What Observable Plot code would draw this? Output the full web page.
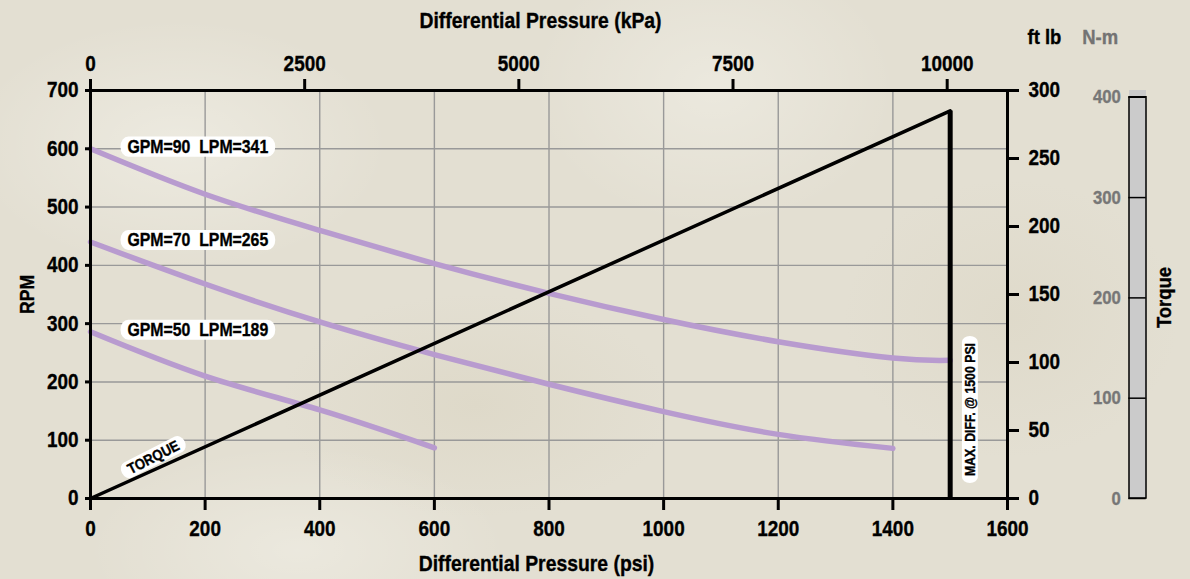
<!DOCTYPE html>
<html>
<head>
<meta charset="utf-8">
<script src="https://cdn.jsdelivr.net/npm/d3@7"></script>
<script src="https://cdn.jsdelivr.net/npm/@observablehq/plot@0.6"></script>
<style>
  html, body { margin: 0; padding: 0; }
  body {
    width: 1190px; height: 579px; overflow: hidden;
    background-color: #e3dfd2;
    background-image:
      radial-gradient(ellipse 300px 180px at 15% 25%, rgba(255,255,250,0.35), transparent 70%),
      radial-gradient(ellipse 260px 200px at 60% 15%, rgba(255,255,250,0.3), transparent 70%),
      radial-gradient(ellipse 280px 160px at 40% 70%, rgba(200,190,160,0.18), transparent 70%),
      radial-gradient(ellipse 240px 200px at 85% 55%, rgba(200,190,160,0.15), transparent 70%),
      radial-gradient(ellipse 300px 150px at 25% 95%, rgba(255,255,250,0.3), transparent 70%);
  }
  #chart { position: relative; width: 1190px; height: 579px; }
  #chart svg { position: absolute; top: 0; }
</style>
</head>
<body>
<div id="chart"></div>
<script>
// ---------- data ----------
const psiTicks = [0, 200, 400, 600, 800, 1000, 1200, 1400, 1600];
const rpmTicks = [0, 100, 200, 300, 400, 500, 600, 700];
const kPaTicks = [0, 2500, 5000, 7500, 10000];
const ftLbTicks = [0, 50, 100, 150, 200, 250, 300];
const nmTicks = [0, 100, 200, 300, 400];

const psi90 = [0, 200, 400, 600, 800, 1000, 1200, 1400, 1500];
const rpm90 = [600, 522, 460, 403, 352, 307, 269, 241, 237];
const psi70 = [0, 200, 400, 600, 800, 1000, 1200, 1400];
const rpm70 = [440, 368, 303, 247, 196, 149, 110, 86];
const psi50 = [0, 200, 400, 600];
const rpm50 = [286, 210, 152, 87];
const seriesNames = ["GPM=90\u00a0\u00a0LPM=341", "GPM=70\u00a0\u00a0LPM=265", "GPM=50\u00a0\u00a0LPM=189"];

const torquePsi = [0, 1500];
const torqueFtLb = [0, 285];
const maxDiffPsi = 1500;
const maxDiffLabel = "MAX. DIFF. @ 1500 PSI";
const torqueLabel = "TORQUE";

const KPA_PER_PSI = 6.69;        // kPa scale as drawn on the chart
const NM_PER_FTLB = 1.35582;
const FTLB_MAX = 300;
const RPM_MAX = 700;
const RPM_PER_FTLB = RPM_MAX / FTLB_MAX;

// ---------- tables ----------
const rows = (xs, ys, s) => xs.map((x, i) => ({psi: x, rpm: ys[i], series: s}));
const curves = [
  ...rows(psi90, rpm90, seriesNames[0]),
  ...rows(psi70, rpm70, seriesNames[1]),
  ...rows(psi50, rpm50, seriesNames[2])
];
const seriesLabelRows = [
  {psi: psi90[0], rpm: rpm90[0], label: seriesNames[0]},
  {psi: psi70[0], rpm: rpm70[0], label: seriesNames[1]},
  {psi: psi50[0], rpm: rpm50[0], label: seriesNames[2]}
];
const torqueRows = torquePsi.map((p, i) => ({psi: p, ftlb: torqueFtLb[i]}));
const torqueTop = torqueFtLb[torqueFtLb.length - 1];

const FONT = '"Liberation Sans", Arial, sans-serif';
const STYLE = `font-family:${FONT};font-weight:bold;background:transparent;overflow:visible;color:black;`;
const TICK_FS = 21.5;
const SQUEEZE = 0.88;   // condensed look

const main = Plot.plot({
  width: 1190, height: 579,
  marginLeft: 90, marginRight: 183, marginTop: 90, marginBottom: 81,
  style: STYLE,
  x: {domain: [0, 1600]},
  y: {domain: [0, RPM_MAX]},
  marks: [
    Plot.gridX(psiTicks, {stroke: "#999", strokeOpacity: 1, strokeWidth: 1.4}),
    Plot.gridY(rpmTicks, {stroke: "#999", strokeOpacity: 1, strokeWidth: 1.4}),
    Plot.line(curves, {x: "psi", y: "rpm", z: "series", stroke: "#b89bcf", strokeWidth: 5.5, curve: "natural"}),
    Plot.line(torqueRows, {x: "psi", y: d => d.ftlb * RPM_PER_FTLB, stroke: "black", strokeWidth: 3.5}),
    Plot.ruleX([maxDiffPsi], {y1: 0, y2: torqueTop * RPM_PER_FTLB, stroke: "black", strokeWidth: 5}),
    Plot.frame({stroke: "black", strokeWidth: 3}),
    Plot.axisY({ticks: rpmTicks, tickSize: 5, tickPadding: 7, fontSize: TICK_FS, strokeWidth: 3, label: null, tickFormat: d => String(d)}),
    Plot.axisX({ticks: psiTicks, tickSize: 12, tickPadding: 10.5, fontSize: TICK_FS, strokeWidth: 3, label: null, tickFormat: d => String(d)}),
    Plot.axisX({anchor: "top", ticks: kPaTicks.map(k => k / KPA_PER_PSI), tickFormat: d => String(Math.round(d * KPA_PER_PSI)),
      tickSize: 12, tickPadding: 7.3, fontSize: TICK_FS, strokeWidth: 3, label: null}),
    Plot.axisY({anchor: "right", ticks: ftLbTicks.map(v => v * RPM_PER_FTLB), tickFormat: d => String(Math.round(d / RPM_PER_FTLB)),
      tickSize: 11, tickPadding: 10, fontSize: TICK_FS, strokeWidth: 3, label: null}),
    // axis titles
    Plot.text(["Differential Pressure (kPa)"], {frameAnchor: "top", lineAnchor: "middle", textAnchor: "middle", dx: -8.5, dy: -69.5, fontSize: 22}),
    Plot.text(["Differential Pressure (psi)"], {frameAnchor: "bottom", lineAnchor: "middle", textAnchor: "middle", dx: -12.5, dy: 65, fontSize: 22}),
    Plot.text(["RPM"], {frameAnchor: "left", lineAnchor: "middle", textAnchor: "middle", dx: -63, rotate: -90, fontSize: 20}),
    Plot.text(["ft lb"], {frameAnchor: "top-right", lineAnchor: "middle", textAnchor: "start", dx: 20, dy: -53, fontSize: 21}),
    // pill labels
    Plot.text(seriesLabelRows, {x: "psi", y: "rpm", text: "label", textAnchor: "start", lineAnchor: "middle", dx: 37, dy: -2, fontSize: 18, fill: "black"}),
    Plot.text([{psi: torquePsi[0], rpm: torqueFtLb[0] * RPM_PER_FTLB, label: torqueLabel}],
      {x: "psi", y: "rpm", text: "label", rotate: -27, lineAnchor: "middle", dx: 63, dy: -41, fontSize: 15}),
    Plot.text([{psi: maxDiffPsi, rpm: 0, label: maxDiffLabel}],
      {x: "psi", y: "rpm", text: "label", rotate: -90, lineAnchor: "middle", dx: 20, dy: -89, fontSize: 14})
  ]
});

const side = Plot.plot({
  width: 110, height: 579,
  marginLeft: 48.3, marginRight: 44.3, marginTop: 90, marginBottom: 81,
  style: STYLE,
  x: {domain: ["Torque"], padding: 0, axis: null},
  y: {domain: [0, FTLB_MAX * NM_PER_FTLB]},
  marks: [
    Plot.barY(["Torque"], {x: d => d, y1: 0, y2: FTLB_MAX * NM_PER_FTLB, fill: "#cbcbcb"}),
    Plot.barY(["Torque"], {x: d => d, y1: 0, y2: nmTicks[nmTicks.length - 1], fill: "none", stroke: "black", strokeWidth: 1.5}),
    Plot.ruleY(nmTicks, {stroke: "black", strokeWidth: 1.5}),
    Plot.axisY({ticks: nmTicks, tickSize: 0, tickPadding: 8, fontSize: 19, color: "#777", label: null, tickFormat: d => String(d)}),
    Plot.text(["Torque"], {frameAnchor: "right", lineAnchor: "middle", textAnchor: "middle", dx: 18, dy: 3, rotate: -90, fontSize: 21}),
    Plot.text(["N-m"], {frameAnchor: "top-left", lineAnchor: "middle", textAnchor: "start", dx: -46.6, dy: -53, fill: "#737373", fontSize: 21})
  ]
});

const chart = document.getElementById("chart");
main.style.left = "0px";
side.style.left = "1080px";
chart.appendChild(main);
chart.appendChild(side);

// condensed, heavier lettering (horizontal squeeze along each text's own baseline)
[main, side].forEach(svg => svg.querySelectorAll("text").forEach(t => {
  const tr = t.getAttribute("transform") || "";
  t.setAttribute("transform", (tr + ` scale(${SQUEEZE},1)`).trim());
  const f = getComputedStyle(t).fill;
  t.style.stroke = f;
  t.style.strokeWidth = "0.35px";
}));

// white pill backgrounds behind annotation labels
const pillTexts = new Set([...seriesNames, torqueLabel, maxDiffLabel]);
main.querySelectorAll("text").forEach(t => {
  if (!pillTexts.has(t.textContent)) return;
  const b = t.getBBox();
  const padX = 8;
  const h = b.height * 1.0;
  const rect = document.createElementNS("http://www.w3.org/2000/svg", "rect");
  rect.setAttribute("x", b.x - padX);
  rect.setAttribute("y", b.y + (b.height - h) / 2);
  rect.setAttribute("width", b.width + 2 * padX);
  rect.setAttribute("height", h);
  rect.setAttribute("rx", h / 2 * SQUEEZE);
  rect.setAttribute("ry", h / 2);
  rect.setAttribute("fill", "white");
  rect.setAttribute("stroke", "none");
  const tr = t.getAttribute("transform");
  if (tr) rect.setAttribute("transform", tr);
  t.parentNode.insertBefore(rect, t);
});
</script>
</body>
</html>
